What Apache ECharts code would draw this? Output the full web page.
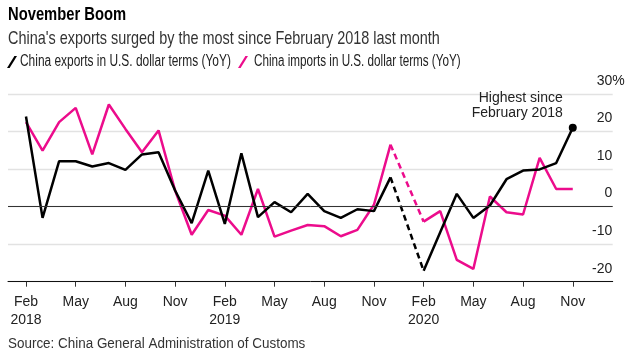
<!DOCTYPE html>
<html>
<head>
<meta charset="utf-8">
<script src="https://cdn.jsdelivr.net/npm/echarts@6/dist/echarts.min.js"></script>
<style>
html,body{margin:0;padding:0;background:#fff;}
#chart{width:640px;height:356px;}
</style>
</head>
<body>
<div id="chart"></div>
<script>
const categories = [
  'Feb 2018','Mar 2018','Apr 2018','May 2018','Jun 2018','Jul 2018','Aug 2018','Sep 2018','Oct 2018','Nov 2018','Dec 2018',
  'Jan 2019','Feb 2019','Mar 2019','Apr 2019','May 2019','Jun 2019','Jul 2019','Aug 2019','Sep 2019','Oct 2019','Nov 2019','Dec 2019',
  'Jan 2020','Feb 2020','Mar 2020','Apr 2020','May 2020','Jun 2020','Jul 2020','Aug 2020','Sep 2020','Oct 2020','Nov 2020'
];
const exportsYoY = [
  24, -3.0, 12.1, 12.1, 10.7, 11.6, 9.8, 13.9, 14.5, 4.3, -4.4,
  9.6, -4.6, 14.2, -2.8, 1.2, -1.5, 3.4, -1.2, -3.0, -0.7, -1.2, 7.8,
  null, -17.1, -6.8, 3.4, -3.0, 0.3, 7.3, 9.6, 9.9, 11.6, 21.0
];
const importsYoY = [
  22.5, 14.9, 22.5, 26.3, 13.9, 27.2, 20.7, 14.5, 20.3, 4.3, -7.5,
  -0.9, -2.4, -7.5, 4.7, -8.0, -6.4, -4.9, -5.2, -7.9, -6.2, 0.5, 16.5,
  null, -4.0, -1.2, -14.2, -16.6, 2.7, -1.5, -2.1, 13.0, 4.7, 4.7
];
const yTicks = [-20, -10, 0, 10, 20, 30];
const xTickMonths = ['Feb', 'May', 'Aug', 'Nov'];
const seriesNames = ['China exports in U.S. dollar terms (YoY)', 'China imports in U.S. dollar terms (YoY)'];
const titleText = 'November Boom';
const subtitleText = "China's exports surged by the most since February 2018 last month";
const sourceText = 'Source: China General Administration of Customs';
const annotationText = 'Highest since\nFebruary 2018';

const FONT = "'Liberation Sans', Arial, sans-serif";
const BLACK = '#000000';
const MAGENTA = '#ec0c8c';

function toPairs(arr) { return arr.map((v, i) => [i, v]); }
function gapPairs(arr) {
  return arr.map((v, i) => {
    if (v === null) return [i, null];
    const adj = (i > 0 && arr[i - 1] === null) || (i < arr.length - 1 && arr[i + 1] === null);
    return [i, adj ? v : null];
  });
}
const xTickIdx = categories.map((c, i) => xTickMonths.includes(c.split(' ')[0]) ? i : -1).filter(i => i >= 0);
const lastIdx = exportsYoY.length - 1;
const lastVal = exportsYoY[lastIdx];

function condensedText(text, x, y, font, fill, sx) {
  return { type: 'text', x: x, y: y, scaleX: sx, silent: true,
    style: { text: text, x: 0, y: 0, font: font, fill: fill, verticalAlign: 'middle', align: 'left' } };
}
function legendIcon(x, y, color) {
  return { type: 'polygon', x: x, y: y, silent: true,
    shape: { points: [[0, 12], [2.6, 12], [10, 0], [7.4, 0]] }, style: { fill: color } };
}

const chart = echarts.init(document.getElementById('chart'), null, { renderer: 'canvas' });
chart.setOption({
  animation: false,
  backgroundColor: '#fff',
  textStyle: { fontFamily: FONT },
  graphic: [
    condensedText(titleText, 8, 15, "bold 18px " + FONT, '#000', 0.82),
    condensedText(subtitleText, 8, 38.5, "18.5px " + FONT, '#333', 0.78),
    legendIcon(7, 56, BLACK),
    condensedText(seriesNames[0], 20, 62, "16px " + FONT, '#222', 0.745),
    legendIcon(238, 56, MAGENTA),
    condensedText(seriesNames[1], 254, 62, "16px " + FONT, '#222', 0.73),
    { type: 'text', left: 8, top: 337, silent: true, style: { text: sourceText, font: "14px " + FONT, fill: '#333' }, scaleX: 0.96 }
  ],
  grid: { left: 8, right: 27.3, top: 94, bottom: 74.3, containLabel: false },
  xAxis: {
    type: 'value',
    min: -1.086, max: 35.41,
    splitLine: { show: false },
    axisLine: { show: true, onZero: false, lineStyle: { color: '#111', width: 1 } },
    axisTick: { show: true, customValues: xTickIdx, length: 5, lineStyle: { color: '#333', width: 1 } },
    axisLabel: {
      customValues: xTickIdx,
      margin: 11,
      fontSize: 14, color: '#222', lineHeight: 18, fontFamily: FONT,
      formatter: function (v) {
        const c = categories[Math.round(v)];
        if (!c) return '';
        const [m, y] = c.split(' ');
        return m === 'Feb' ? m + '\n' + y : m;
      }
    }
  },
  yAxis: {
    type: 'value', position: 'right',
    min: yTicks[0], max: yTicks[yTicks.length - 1], interval: 10,
    axisLine: { show: false }, axisTick: { show: false },
    splitLine: { lineStyle: { color: '#e2e2e2', width: 1.3 } },
    axisLabel: {
      inside: true, margin: -12,
      verticalAlign: 'bottom', padding: [0, 0, 5, 0],
      fontSize: 14, color: '#222', fontFamily: FONT, lineHeight: 16,
      formatter: function (v) {
        return v === yTicks[yTicks.length - 1] ? v + '{p|%}' : v + '{h|%}';
      },
      rich: {
        p: { fontSize: 14, color: '#222', fontFamily: FONT, lineHeight: 16 },
        h: { fontSize: 14, color: 'rgba(0,0,0,0)', fontFamily: FONT, lineHeight: 16 }
      }
    }
  },
  series: [
    {
      name: seriesNames[1], type: 'line', data: toPairs(importsYoY),
      showSymbol: false, symbol: 'none', connectNulls: false, z: 2,
      lineStyle: { color: MAGENTA, width: 2.5 }, itemStyle: { color: MAGENTA },
      markLine: {
        silent: true, symbol: 'none', label: { show: false },
        lineStyle: { color: '#333', width: 1, type: 'solid' },
        data: [{ yAxis: 0 }]
      }
    },
    {
      name: seriesNames[1] + ' gap', type: 'line', data: gapPairs(importsYoY),
      showSymbol: false, symbol: 'none', connectNulls: true, z: 2,
      lineStyle: { color: MAGENTA, width: 2.5, type: [6, 4] }
    },
    {
      name: seriesNames[0], type: 'line', data: toPairs(exportsYoY),
      showSymbol: false, symbol: 'none', connectNulls: false, z: 3, clip: false,
      lineStyle: { color: BLACK, width: 2.5 }, itemStyle: { color: BLACK },
      markLine: {
        silent: true, symbol: 'none', label: { show: false },
        lineStyle: { color: '#000', width: 1, type: 'solid' },
        data: [[{ coord: [lastIdx, lastVal] }, { coord: [lastIdx, 30.4] }]]
      },
      markPoint: {
        silent: true,
        data: [
          { coord: [lastIdx, lastVal], symbol: 'circle', symbolSize: 8, itemStyle: { color: '#000' }, label: { show: false } },
          { coord: [lastIdx, 27], symbol: 'circle', symbolSize: 0,
            label: { show: true, position: 'left', distance: 10, align: 'right', formatter: annotationText,
                     fontSize: 14, lineHeight: 15, color: '#222', fontFamily: FONT } }
        ]
      }
    },
    {
      name: seriesNames[0] + ' gap', type: 'line', data: gapPairs(exportsYoY),
      showSymbol: false, symbol: 'none', connectNulls: true, z: 3,
      lineStyle: { color: BLACK, width: 2.5, type: [6, 4] }
    }
  ]
});
</script>
</body>
</html>
